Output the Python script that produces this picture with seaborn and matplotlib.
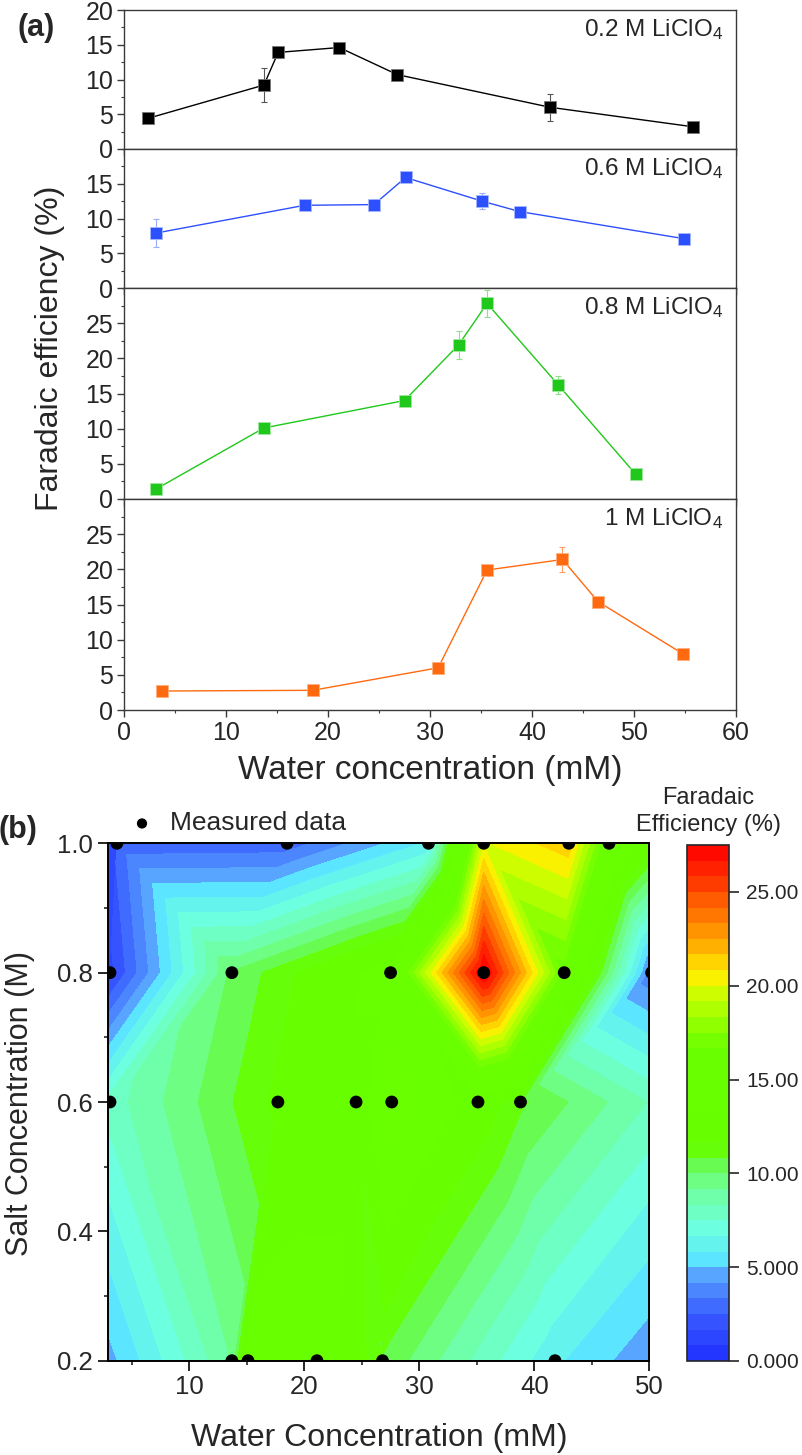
import numpy as np
import pandas as pd
import matplotlib
matplotlib.use("Agg")
import matplotlib.pyplot as plt
import matplotlib.tri as mtri
from matplotlib.colors import LinearSegmentedColormap, Normalize
from matplotlib.ticker import MultipleLocator, FixedLocator, FuncFormatter
import seaborn as sns

# ---- dados ----
salt_labels = ["0.2 M LiClO$_4$", "0.6 M LiClO$_4$", "0.8 M LiClO$_4$", "1 M LiClO$_4$"]
salt_vals = [0.2, 0.6, 0.8, 1.0]

water_02 = [2.3, 13.7, 15.1, 21.1, 26.8, 41.8, 55.8]
fe_02 = [4.4, 9.2, 13.9, 14.6, 10.7, 6.0, 3.2]
err_02 = [0.3, 2.5, 0.8, 0.5, 0.3, 1.9, 0.3]

water_06 = [3.1, 17.7, 24.5, 27.6, 35.1, 38.8, 54.9]
fe_06 = [7.9, 11.9, 12.0, 15.9, 12.5, 11.0, 7.1]
err_06 = [2.0, 0.4, 0.8, 0.6, 1.1, 0.6, 0.4]

water_08 = [3.1, 13.7, 27.5, 32.8, 35.6, 42.6, 50.2]
fe_08 = [1.4, 10.1, 14.0, 21.9, 27.8, 16.2, 3.5]
err_08 = [0.2, 0.3, 0.6, 2.0, 1.9, 1.3, 0.3]

water_10 = [3.7, 18.5, 30.8, 35.6, 43.0, 46.5, 54.8]
fe_10 = [2.7, 2.8, 6.0, 19.9, 21.4, 15.4, 8.0]
err_10 = [0.2, 0.2, 0.3, 0.4, 1.8, 0.6, 0.4]

# pontos usados no mapa (b): o ponto 32.8 mM / 0.8 M não aparece no mapa
in_map_08 = [1, 1, 1, 0, 1, 1, 1]

ylims = [20, 20, 30, 30]
ytick_max = [20, 15, 25, 25]

line_colors = ["#000000", "#2D50FF", "#1FC81A", "#FF6A10"]
edge_colors = ["#777777", "#A8B8FF", "#A0E8A0", "#FFB080"]
err_colors = ["#555555", "#9AAEFF", "#8EE08E", "#FF9E60"]

# tabela longa
frames = []
for s, w, f, e in zip(salt_vals, [water_02, water_06, water_08, water_10],
                      [fe_02, fe_06, fe_08, fe_10], [err_02, err_06, err_08, err_10]):
    frames.append(pd.DataFrame({"salt": s, "water": w, "fe": f, "err": e}))
df = pd.concat(frames, ignore_index=True)
df["in_map"] = 1
df.loc[df["salt"] == 0.8, "in_map"] = in_map_08

# ---- estilo ----
sns.set_style("ticks")
plt.rcParams["font.family"] = ["Liberation Sans", "DejaVu Sans"]
plt.rcParams["mathtext.fontset"] = "custom"
plt.rcParams["mathtext.rm"] = "Liberation Sans"
plt.rcParams["mathtext.it"] = "Liberation Sans:italic"

W, H = 802, 1455
fig = plt.figure(figsize=(W / 100, H / 100), dpi=100)


def add_ax(l, t, r, b):
    return fig.add_axes([l / W, 1 - b / H, (r - l) / W, (b - t) / H])


# ---- (a) 4 painéis empilhados ----
tops = [10, 149, 288, 499]
bots = [149, 288, 499, 710]
for i in range(4):
    ax = add_ax(124.3, tops[i], 735.7, bots[i])
    sub = df[df["salt"] == salt_vals[i]]
    ax.errorbar(sub["water"], sub["fe"], yerr=sub["err"], fmt="none",
                ecolor=err_colors[i], elinewidth=0.8, capsize=2.5, capthick=0.8, zorder=2)
    sns.lineplot(data=sub, x="water", y="fe", ax=ax, color=line_colors[i],
                 marker="s", markersize=8, markeredgecolor=edge_colors[i],
                 markeredgewidth=0.6, linewidth=1.0, sort=False, errorbar=None, zorder=3)
    ax.set_xlim(0, 60)
    ax.set_ylim(0, ylims[i])
    ax.yaxis.set_major_locator(FixedLocator(np.arange(0, ytick_max[i] + 1, 5)))
    ax.yaxis.set_minor_locator(MultipleLocator(2.5))
    ax.xaxis.set_major_locator(MultipleLocator(10))
    ax.set_xlabel("")
    ax.set_ylabel("")
    for sp in ax.spines.values():
        sp.set_color("#3a3a3a")
        sp.set_linewidth(1.0)
    ax.tick_params(axis="both", which="major", direction="out", length=5, width=1.0,
                   labelsize=18, color="#3a3a3a", pad=3)
    ax.tick_params(axis="y", which="minor", direction="out", length=2.5, width=0.8, color="#3a3a3a")
    if i < 3:
        ax.tick_params(axis="x", labelbottom=False)
    else:
        ax.xaxis.set_minor_locator(MultipleLocator(5))
        ax.tick_params(axis="x", which="minor", direction="out", length=2.5, width=0.8, color="#3a3a3a")
    ax.annotate(salt_labels[i], xy=(1, 1), xycoords="axes fraction", xytext=(-9, -5),
                textcoords="offset points", ha="right", va="top", fontsize=17.5)

fig.text(36 / W, 1 - 28 / H, "(a)", fontsize=22, fontweight="bold", ha="center", va="center")
fig.text(50 / W, 1 - 348 / H, "Faradaic efficiency (%)", fontsize=23, rotation=90,
         ha="center", va="center")
fig.text(430 / W, 1 - 770 / H, "Water concentration (mM)", fontsize=24, ha="center", va="center")

# ---- (b) mapa de contorno (triangulação linear dos pontos medidos) ----
dm = df[df["in_map"] == 1]
xs = dm["water"].to_numpy()
ys = dm["salt"].to_numpy()
zs = dm["fe"].to_numpy()
tri0 = mtri.Triangulation((xs - xs.min()) / (xs.max() - xs.min()), (ys - 0.2) / 0.8)
tri = mtri.Triangulation(xs, ys, triangles=tri0.triangles)

levels = np.linspace(0, 27.5, 34)
nodes = [(0.0, "#2030FF"), (2.5, "#3A5CFF"), (4.6, "#58A8FF"), (5.4, "#5CE6FF"),
         (7.0, "#6CFFE0"), (9.3, "#70FF98"), (10.6, "#66FA40"), (11.3, "#66FF00"),
         (16.8, "#6AFF00"), (19.5, "#C8FF00"), (20.6, "#FFF000"), (22.0, "#FFB400"),
         (24.0, "#FF7000"), (25.8, "#FF3000"), (27.5, "#FF0000")]
cmap = LinearSegmentedColormap.from_list("fe", [(v / 27.5, c) for v, c in nodes])
cmap.set_over("#FF0000")
norm = Normalize(0, 27.5)

axb = add_ax(107.7, 843.3, 649.3, 1360.7)
axb.set_facecolor(cmap(norm(1.5)))
axb.tricontourf(tri, zs, levels=levels, cmap=cmap, norm=norm, extend="max")
sns.scatterplot(data=dm, x="water", y="salt", ax=axb, color="black", s=85,
                edgecolor="none", label="Measured data", zorder=4, clip_on=True)
axb.set_xlim(2.9, 50)
axb.set_ylim(0.2, 1.0)
axb.set_xlabel("")
axb.set_ylabel("")
axb.xaxis.set_major_locator(MultipleLocator(10))
axb.xaxis.set_minor_locator(MultipleLocator(5))
axb.yaxis.set_major_locator(MultipleLocator(0.2))
axb.yaxis.set_minor_locator(MultipleLocator(0.1))
axb.yaxis.set_major_formatter(FuncFormatter(lambda v, p: f"{v:.1f}"))
for sp in axb.spines.values():
    sp.set_color("black")
    sp.set_linewidth(1.4)
axb.tick_params(axis="both", which="major", direction="out", length=7, width=1.4, labelsize=18.5)
axb.tick_params(axis="both", which="minor", direction="out", length=3, width=1.2)
sec = axb.secondary_yaxis("right")
sec.yaxis.set_major_locator(MultipleLocator(0.1))
sec.tick_params(direction="in", length=4, width=1.2, labelright=False)
sec.spines["right"].set_linewidth(1.4)

axb.legend(loc="lower left", bbox_to_anchor=(0.0, 1.0), frameon=False, fontsize=19,
           handletextpad=0.05, borderaxespad=0.1, borderpad=0.2, markerscale=0.8)

fig.text(18 / W, 1 - 830 / H, "(b)", fontsize=22, fontweight="bold", ha="center", va="center")
fig.text(20 / W, 1 - 1103 / H, "Salt Concentration (M)", fontsize=22, rotation=90,
         ha="center", va="center")
fig.text(379 / W, 1 - 1438 / H, "Water Concentration (mM)", fontsize=23, ha="center", va="center")

# ---- barra de cores ----
cax = add_ax(686.7, 845, 729.3, 1361)
sm = plt.cm.ScalarMappable(norm=norm, cmap=cmap)
cb = fig.colorbar(sm, cax=cax, boundaries=levels, values=(levels[:-1] + levels[1:]) / 2,
                  ticks=[0, 5, 10, 15, 20, 25])
cb.ax.yaxis.set_major_formatter(FuncFormatter(lambda v, p: f"{v:.3f}" if v < 10 else f"{v:.2f}"))
cb.ax.tick_params(direction="out", length=7, width=1.2, labelsize=15, pad=5)
cb.outline.set_linewidth(1.2)
cb.ax.minorticks_off()
cax.set_title("Faradaic\nEfficiency (%)", fontsize=17, pad=10, linespacing=1.3)

fig.savefig("out.png", dpi=100)
